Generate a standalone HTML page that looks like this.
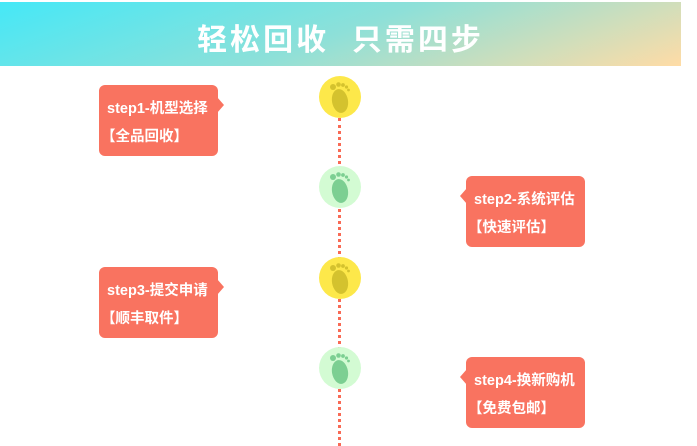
<!DOCTYPE html><html><head><meta charset="utf-8"><style>
body{margin:0;width:697px;height:446px;background:#fff;position:relative;overflow:hidden;font-family:"Liberation Sans","Noto Sans CJK SC",sans-serif}
.hd{position:absolute;left:0;top:2px;width:681px;height:64px;background:linear-gradient(160deg,#45e8f7 0%,#8ee0d8 50%,#ffdca6 100%)}
.hd div{position:absolute;left:0;width:681px;top:13px;text-align:center;color:#fff;font-size:30px;font-weight:bold;letter-spacing:3px}
.line{position:absolute;left:338px;top:118px;height:328px;border-left:3px dotted #f96a55}
.c{position:absolute;width:42px;height:42px;border-radius:50%;left:319px}
.y{background:#fde84a}.g{background:#d3fbd3}
.c svg{position:absolute;left:8px;top:5px}
.b{position:absolute;width:119px;height:71px;background:#f97360;border-radius:6px;color:#fff;font-size:14.5px;font-weight:bold}
.b p{margin:0;position:absolute;left:8px;white-space:nowrap}
.b .a{top:12px}.b .s{top:40px;left:2px}
.b:after{content:"";position:absolute;top:12px;border:8px solid transparent}
.L:after{right:-14px;border-left:7px solid #f97360}
.R:after{left:-14px;border-right:7px solid #f97360}
</style></head><body>
<div class="hd"><div>轻松回收&nbsp;&nbsp;只需四步</div></div>
<div class="line"></div>
<div class="c y" style="top:76px"><svg width="26" height="34" viewBox="0 0 26 34"><ellipse cx="13" cy="20" rx="8" ry="12" transform="rotate(-10 13 20)" fill="#d4c22e"/><circle cx="6" cy="6" r="3" fill="#d4c22e"/><circle cx="11.5" cy="3.5" r="2.3" fill="#d4c22e"/><circle cx="16" cy="4" r="1.9" fill="#d4c22e"/><circle cx="19.5" cy="6" r="1.6" fill="#d4c22e"/><circle cx="21.5" cy="9" r="1.4" fill="#d4c22e"/></svg></div>
<div class="c g" style="top:166px"><svg width="26" height="34" viewBox="0 0 26 34"><ellipse cx="13" cy="20" rx="8" ry="12" transform="rotate(-10 13 20)" fill="#7ccf92"/><circle cx="6" cy="6" r="3" fill="#7ccf92"/><circle cx="11.5" cy="3.5" r="2.3" fill="#7ccf92"/><circle cx="16" cy="4" r="1.9" fill="#7ccf92"/><circle cx="19.5" cy="6" r="1.6" fill="#7ccf92"/><circle cx="21.5" cy="9" r="1.4" fill="#7ccf92"/></svg></div>
<div class="c y" style="top:257px"><svg width="26" height="34" viewBox="0 0 26 34"><ellipse cx="13" cy="20" rx="8" ry="12" transform="rotate(-10 13 20)" fill="#d4c22e"/><circle cx="6" cy="6" r="3" fill="#d4c22e"/><circle cx="11.5" cy="3.5" r="2.3" fill="#d4c22e"/><circle cx="16" cy="4" r="1.9" fill="#d4c22e"/><circle cx="19.5" cy="6" r="1.6" fill="#d4c22e"/><circle cx="21.5" cy="9" r="1.4" fill="#d4c22e"/></svg></div>
<div class="c g" style="top:347px"><svg width="26" height="34" viewBox="0 0 26 34"><ellipse cx="13" cy="20" rx="8" ry="12" transform="rotate(-10 13 20)" fill="#7ccf92"/><circle cx="6" cy="6" r="3" fill="#7ccf92"/><circle cx="11.5" cy="3.5" r="2.3" fill="#7ccf92"/><circle cx="16" cy="4" r="1.9" fill="#7ccf92"/><circle cx="19.5" cy="6" r="1.6" fill="#7ccf92"/><circle cx="21.5" cy="9" r="1.4" fill="#7ccf92"/></svg></div>
<div class="b L" style="left:99px;top:85px"><p class="a">step1-机型选择</p><p class="s">【全品回收】</p></div>
<div class="b R" style="left:466px;top:176px"><p class="a">step2-系统评估</p><p class="s">【快速评估】</p></div>
<div class="b L" style="left:99px;top:267px"><p class="a">step3-提交申请</p><p class="s">【顺丰取件】</p></div>
<div class="b R" style="left:466px;top:357px"><p class="a">step4-换新购机</p><p class="s">【免费包邮】</p></div>
</body></html>
